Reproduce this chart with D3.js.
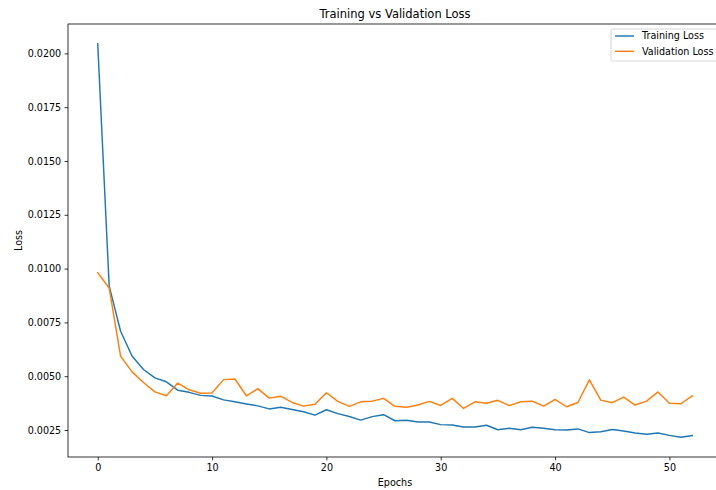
<!DOCTYPE html>
<html>
<head>
<meta charset="utf-8">
<script src="https://cdn.jsdelivr.net/npm/d3@7"></script>
<style>
    body { margin: 0; background: #fff; }
    svg { display: block; font-family: "DejaVu Sans", sans-serif; }
</style>
</head>
<body>
<div id="lossChart"></div>
<script>
// values
const trainLoss = [0.02045, 0.0092, 0.00709, 0.00594, 0.00531, 0.00492, 0.00474, 0.00435, 0.00425, 0.00411,
    0.00408, 0.0039, 0.00381, 0.00371, 0.00362, 0.00348, 0.00356, 0.00345, 0.00335, 0.00319,
    0.00344, 0.00326, 0.00313, 0.00296, 0.00312, 0.00321, 0.00293, 0.00295, 0.00287, 0.00287,
    0.00275, 0.00273, 0.00264, 0.00264, 0.00272, 0.00251, 0.00258, 0.00251, 0.00263, 0.00258,
    0.00251, 0.0025, 0.00255, 0.00238, 0.00242, 0.00252, 0.00245, 0.00236, 0.0023, 0.00236,
    0.00225, 0.00216, 0.00224];
const valLoss = [0.00981, 0.0091, 0.00593, 0.0052, 0.00471, 0.00427, 0.00409, 0.00468, 0.00437, 0.00421,
    0.00422, 0.00484, 0.00487, 0.00409, 0.00442, 0.00398, 0.00407, 0.00378, 0.00361, 0.0037,
    0.00423, 0.00383, 0.0036, 0.00381, 0.00384, 0.00397, 0.0036, 0.00356, 0.00366, 0.00383,
    0.00364, 0.00397, 0.0035, 0.00381, 0.00374, 0.00388, 0.00363, 0.00381, 0.00384, 0.00361,
    0.00392, 0.00358, 0.00378, 0.00483, 0.00389, 0.00377, 0.00403, 0.00366, 0.00384, 0.00427,
    0.00374, 0.00372, 0.00409];
const seriesNames = ['Training Loss', 'Validation Loss'];
const xTicks = [0, 10, 20, 30, 40, 50];
const yTicks = [0.0025, 0.005, 0.0075, 0.01, 0.0125, 0.015, 0.0175, 0.02];

const width = 716;
const height = 490;
const plotLeft = 68, plotTop = 24, plotRight = 722, plotBottom = 457;
const colors = ['#1f77b4', '#ff7f0e'];

const epochs = trainLoss.map((d, i) => i)

// matplotlib style 5% margins
const xPad = (epochs.length - 1) * 0.05
const xScale = d3.scaleLinear()
    .domain([-xPad, epochs.length - 1 + xPad])
    .range([plotLeft, plotRight])

const allVals = trainLoss.concat(valLoss)
const yMin = d3.min(allVals), yMax = d3.max(allVals)
const yPad = (yMax - yMin) * 0.05
const yScale = d3.scaleLinear()
    .domain([yMin - yPad, yMax + yPad])
    .range([plotBottom, plotTop])

let svg = d3.select('#lossChart')
    .append('svg')
    .attr('width', width)
    .attr('height', height);

// lines
const line = d3.line()
    .x((d, i) => xScale(epochs[i]))
    .y(d => yScale(d))

;[trainLoss, valLoss].forEach((series, k) => {
    svg.append('path')
        .datum(series)
        .attr('fill', 'none')
        .attr('stroke', colors[k])
        .attr('stroke-width', 1.45)
        .attr('stroke-linejoin', 'round')
        .attr('stroke-linecap', 'square')
        .attr('d', line)
})

// x axis
let xAxis = svg.append('g')
    .attr('transform', `translate(0,${plotBottom})`)
    .call(d3.axisBottom(xScale).tickValues(xTicks).tickSize(3.4).tickPadding(3.4).tickSizeOuter(0))
xAxis.select('.domain').remove()
xAxis.selectAll('text').attr('font-size', 9.6).attr('fill', '#000').attr('font-family', 'DejaVu Sans')
xAxis.selectAll('line').attr('stroke', '#000').attr('stroke-width', 0.8)

// y axis
let yAxis = svg.append('g')
    .attr('transform', `translate(${plotLeft},0)`)
    .call(d3.axisLeft(yScale).tickValues(yTicks).tickFormat(d3.format('.4f')).tickSize(3.4).tickPadding(3.4))
yAxis.select('.domain').remove()
yAxis.selectAll('text').attr('font-size', 9.6).attr('fill', '#000').attr('font-family', 'DejaVu Sans')
yAxis.selectAll('line').attr('stroke', '#000').attr('stroke-width', 0.8)

// spines
svg.append('rect')
    .attr('x', plotLeft)
    .attr('y', plotTop)
    .attr('width', plotRight - plotLeft)
    .attr('height', plotBottom - plotTop)
    .attr('fill', 'none')
    .attr('stroke', '#000')
    .attr('stroke-width', 0.8)

// title and labels
svg.append('text')
    .attr('x', (plotLeft + plotRight) / 2)
    .attr('y', 17.5)
    .attr('text-anchor', 'middle')
    .attr('font-size', 11.5)
    .text('Training vs Validation Loss')

svg.append('text')
    .attr('x', (plotLeft + plotRight) / 2)
    .attr('y', 486)
    .attr('text-anchor', 'middle')
    .attr('font-size', 9.6)
    .text('Epochs')

svg.append('text')
    .attr('transform', `translate(21.5,${(plotTop + plotBottom) / 2}) rotate(-90)`)
    .attr('text-anchor', 'middle')
    .attr('font-size', 9.6)
    .text('Loss')

// legend
let legend = svg.append('g')
legend.append('rect')
    .attr('x', 611)
    .attr('y', 29)
    .attr('width', 106)
    .attr('height', 32)
    .attr('rx', 2.5)
    .attr('fill', 'rgba(255,255,255,0.8)')
    .attr('stroke', '#ccc')
    .attr('stroke-width', 0.8)

seriesNames.forEach((name, k) => {
    let cy = 36 + k * 15.3
    legend.append('line')
        .attr('x1', 615)
        .attr('x2', 634)
        .attr('y1', cy)
        .attr('y2', cy)
        .attr('stroke', colors[k])
        .attr('stroke-width', 1.45)
    legend.append('text')
        .attr('x', 642)
        .attr('y', cy)
        .attr('dy', '0.35em')
        .attr('font-size', 9.6)
        .text(name)
})
</script>
</body>
</html>
